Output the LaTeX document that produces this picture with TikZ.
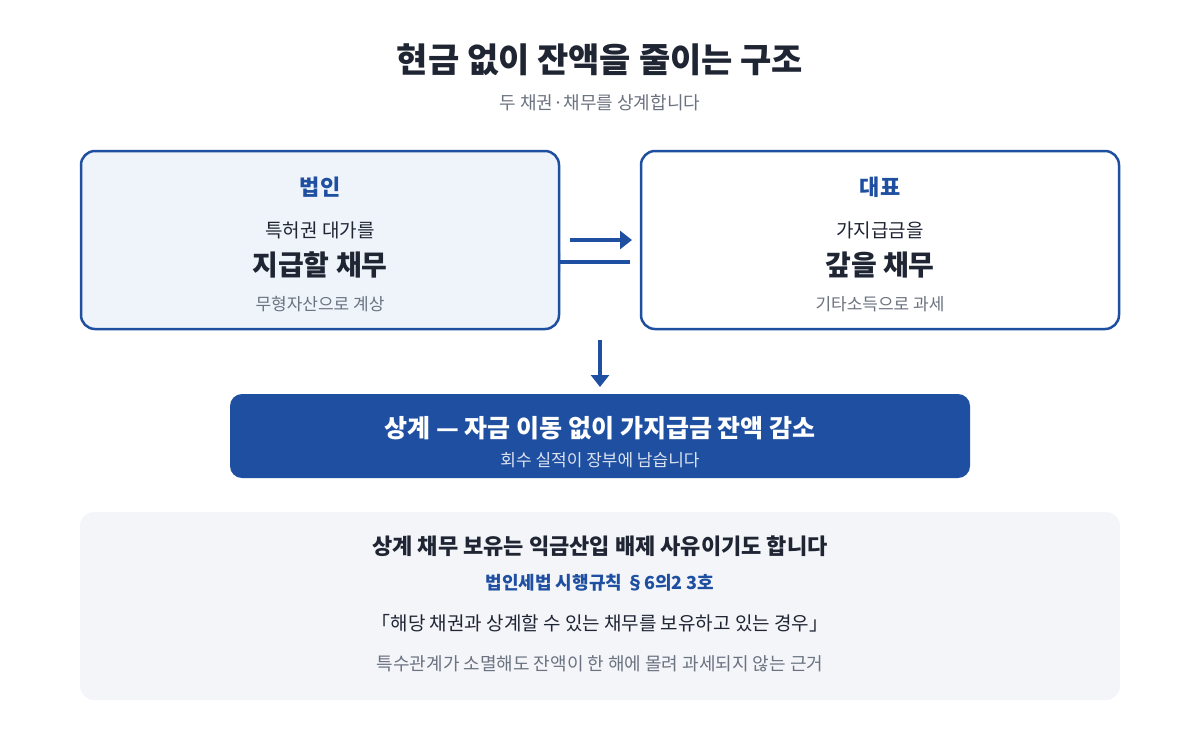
\documentclass[tikz,border=0pt]{standalone}
\usepackage{fontspec}
\setmainfont{Noto Sans CJK KR}
\usetikzlibrary{arrows.meta}
\definecolor{navy}{HTML}{1E4FA0}
\definecolor{ink}{HTML}{1F2533}
\definecolor{gr}{HTML}{6B7280}
\definecolor{lb}{HTML}{EFF4FB}
\definecolor{pane}{HTML}{F3F5F9}
\begin{document}
\begin{tikzpicture}[x=1pt,y=-1pt,
  box/.style={draw=navy,line width=2.5pt,rounded corners=14pt},
  arr/.style={draw=navy,line width=4pt,-{Triangle[length=12pt,width=18pt]}},
  t/.style={anchor=center,inner sep=0pt}]
\useasboundingbox (0,0) rectangle (1200,740);
\node[t,font=\fontsize{34}{40}\selectfont\bfseries,text=ink] (title) at (600,60) {현금 없이 잔액을 줄이는 구조};
\node[t,font=\fontsize{18}{22}\selectfont,text=gr] (sub) at (600,103) {두 채권·채무를 상계합니다};
% arrows
\draw[arr] (570,240) -- (632,240);
\coordinate (lt) at (630,262);
\draw[arr] (lt) -- (548,262);
\draw[arr] (600,340) -- (600,387);
% boxes
\draw[box,fill=lb] (81,151) rectangle (559,329);
\draw[box,fill=white] (641,151) rectangle (1119,329);
\node[t,font=\fontsize{22}{26}\selectfont\bfseries,text=navy] (a1) at (320,187) {법인};
\node[t,font=\fontsize{19}{23}\selectfont,text=ink] (a2) at (320,230) {특허권 대가를};
\node[t,font=\fontsize{28}{32}\selectfont\bfseries,text=ink] (a3) at (320,265) {지급할 채무};
\node[t,font=\fontsize{17}{21}\selectfont,text=gr] (a4) at (320,304) {무형자산으로 계상};
\node[t,font=\fontsize{22}{26}\selectfont\bfseries,text=navy] (b1) at (880,187) {대표};
\node[t,font=\fontsize{19}{23}\selectfont,text=ink] (b2) at (880,230) {가지급금을};
\node[t,font=\fontsize{28}{32}\selectfont\bfseries,text=ink] (b3) at (880,265) {갚을 채무};
\node[t,font=\fontsize{17}{21}\selectfont,text=gr] (b4) at (880,304) {기타소득으로 과세};
% banner
\fill[navy,rounded corners=12pt] (230,394) rectangle (970,478);
\node[t,font=\fontsize{25}{30}\selectfont\bfseries,text=white] (c1) at (600,428) {상계 — 자금 이동 없이 가지급금 잔액 감소};
\node[t,font=\fontsize{17}{21}\selectfont,text=white!85!navy] (c2) at (600,460) {회수 실적이 장부에 남습니다};
% bottom pane
\fill[pane,rounded corners=14pt] (80,512) rectangle (1120,700);
\node[t,font=\fontsize{22}{26}\selectfont\bfseries,text=ink] (d1) at (600,546) {상계 채무 보유는 익금산입 배제 사유이기도 합니다};
\node[t,font=\fontsize{18}{22}\selectfont\bfseries,text=navy] (d2) at (600,583) {법인세법 시행규칙 §6의2 3호};
\node[t,font=\fontsize{19}{23}\selectfont,text=ink] (d3) at (600,623) {「해당 채권과 상계할 수 있는 채무를 보유하고 있는 경우」};
\node[t,font=\fontsize{18}{22}\selectfont,text=gr] (d4) at (600,664) {특수관계가 소멸해도 잔액이 한 해에 몰려 과세되지 않는 근거};
\end{tikzpicture}
\end{document}
